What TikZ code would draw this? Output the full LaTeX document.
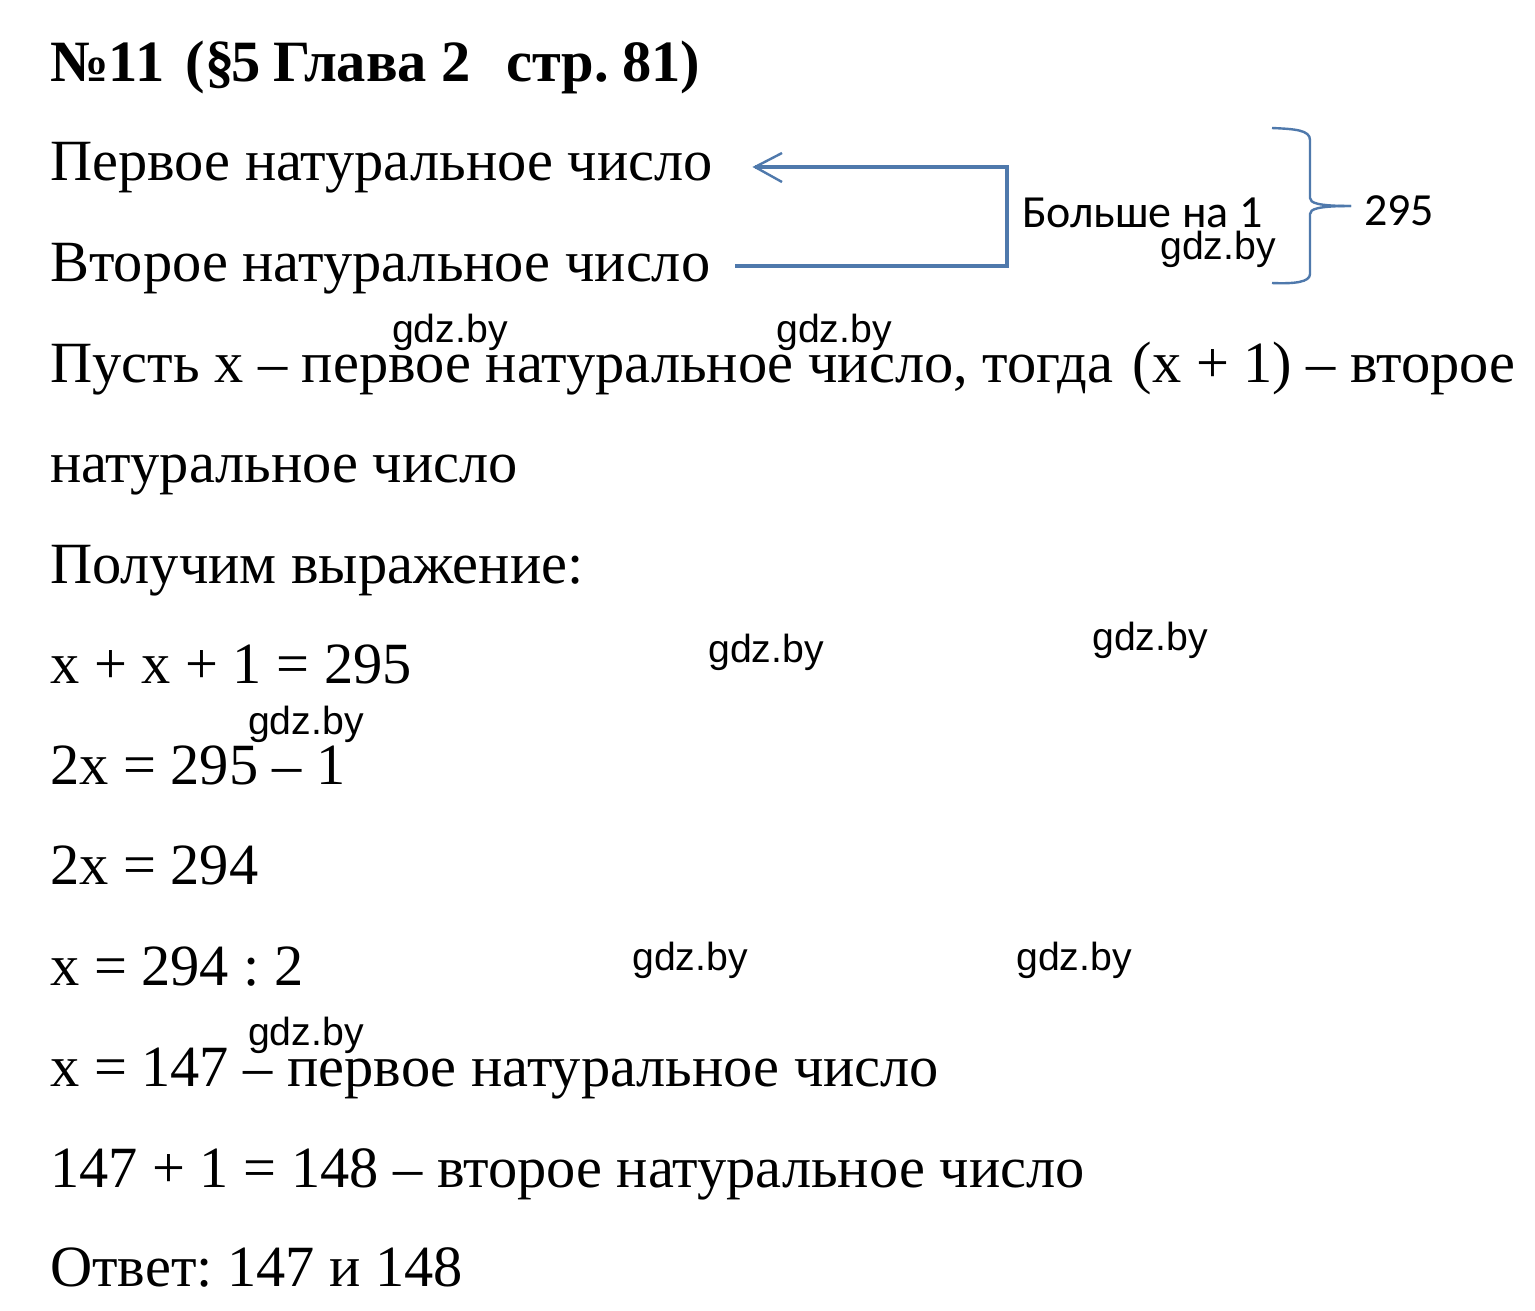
\documentclass[tikz,border=0pt]{standalone}
\usepackage{fontspec}
\setmainfont{Liberation Serif}
\newfontfamily\wm{Carlito}
\newfontfamily\gd{Liberation Sans}
\definecolor{lineblue}{HTML}{4F79AC}
\frenchspacing
\tikzset{
 txt/.style={anchor=base west,inner sep=0pt,font=\fontsize{58.4}{58.4}\selectfont},
 hd/.style={anchor=base west,inner sep=0pt,font=\fontsize{58.5}{58.5}\selectfont\bfseries},
 wmk/.style={anchor=base west,inner sep=0pt,font=\gd\fontsize{39.2}{39.2}\selectfont},
 lab/.style={anchor=base west,inner sep=0pt,font=\wm\fontsize{46}{46}\selectfont},
 conn/.style={draw=lineblue,line width=3.1pt},
 thin conn/.style={draw=lineblue,line width=2.4pt},
}
\begin{document}
\begin{tikzpicture}[x=1pt,y=-1pt]
\fill[white] (0,0) rectangle (1535,1310);
\useasboundingbox (0,0) rectangle (1535,1310);
\node[hd] (t0) at (50,81) {№11\kern7pt\ (§\kern-3pt 5\kern-2pt\ Глава 2\kern4pt\ \ \kern2pt стр.\kern-1pt\ 81)};
\node[txt] (t1) at (50,180) {Первое натуральное число};
\node[txt] (t2) at (50,281) {Второе натуральное число};
\node[txt] (t3) at (50,382) {Пусть x – первое натуральное число, тогда\kern5pt\ (x + 1) – второе};
\node[txt] (t4) at (50,482) {натуральное число};
\node[txt] (t5) at (50,583) {Получим выражение:};
\node[txt] (t6) at (50,683) {x + x + 1 = 295};
\node[txt] (t7) at (50,784) {2x = 295 – 1};
\node[txt] (t8) at (50,884) {2x = 294};
\node[txt] (t9) at (50,985) {x = 294 : 2};
\node[txt] (t10) at (50,1086) {x = 147 – первое натуральное число};
\node[txt] (t11) at (50,1187) {147 + 1 = 148 – второе натуральное число};
\node[txt] (t12) at (50,1286) {Ответ: 147 и 148};
\node[lab] (more) at (1022,227) {Больше на 1};
\node[lab] (sum) at (1364,225) {295};
\coordinate (a1) at (755,167);
\coordinate (c1) at (1007,167);
\coordinate (c2) at (1007,266);
\coordinate (a2) at (735,266);
\draw[conn] (a2) -- (c2) -- (c1) -- (a1);
\draw[thin conn] (782,153) -- (a1) -- (782,182);
\coordinate (bt) at (1272,128);
\coordinate (bb) at (1272,283);
\coordinate (bm) at (1351,206);
\draw[thin conn] (bt) .. controls (1295,129) and (1310,130) .. (1310,140) -- (1310,198) .. controls (1310,203) and (1318,206) .. (bm);
\draw[thin conn] (bb) .. controls (1295,284) and (1310,282) .. (1310,274) -- (1310,214) .. controls (1310,209) and (1318,206) .. (bm);
\foreach \n/\x/\y in {w1/1160/259,w2/392/342,w3/776/342,w4/708/662,w5/1092/650,w6/248/734,w7/632/970,w8/1016/970,w9/248/1045}{
 \node[wmk] (\n) at (\x,\y) {gdz.by};
}
\end{tikzpicture}
\end{document}
